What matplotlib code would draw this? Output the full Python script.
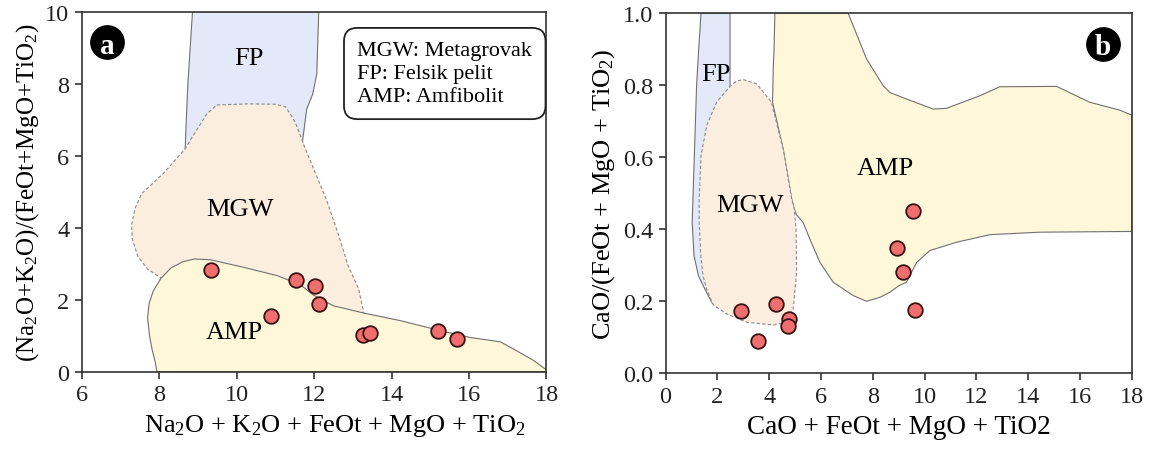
import matplotlib
matplotlib.use("Agg")
import matplotlib.pyplot as plt
from matplotlib.patches import Polygon
from matplotlib.ticker import FormatStrFormatter

plt.rcParams['font.family'] = ['Liberation Serif', 'DejaVu Serif']
plt.rcParams['mathtext.fontset'] = 'custom'
plt.rcParams['mathtext.rm'] = 'Liberation Serif'
plt.rcParams['mathtext.it'] = 'Liberation Serif:italic'
plt.rcParams['mathtext.bf'] = 'Liberation Serif:bold'

# ---------------- data: panel a ----------------
a_x = [9.33, 10.88, 11.54, 12.03, 12.12, 13.25, 13.45, 15.20, 15.70]
a_y = [2.83, 1.55, 2.56, 2.39, 1.88, 1.02, 1.07, 1.14, 0.90]

a_fp = [(8.86, 10.0), (8.80, 9.0), (8.74, 8.0), (8.70, 7.0), (8.67, 6.19), (8.70, 5.9),
        (11.75, 5.9), (11.70, 6.4), (11.81, 7.3), (11.96, 7.7), (12.07, 8.27),
        (12.09, 9.0), (12.12, 10.0)]
a_mgw = [(9.49, 7.41), (10.3, 7.44), (11.0, 7.43), (11.26, 7.36), (11.45, 7.05),
         (11.55, 6.83), (11.74, 6.28), (12.0, 5.6), (12.31, 4.8), (12.6, 3.9),
         (12.88, 2.94), (13.15, 2.3), (13.28, 1.65), (13.3, 1.5), (8.3, 1.5),
         (8.05, 2.6), (7.7, 2.85), (7.45, 3.2), (7.30, 3.7), (7.29, 4.1),
         (7.38, 4.55), (7.55, 4.95), (7.80, 5.2), (8.1, 5.5), (8.67, 6.19),
         (8.9, 6.6), (9.23, 7.16)]
a_amp = [(7.94, 0.0), (7.90, 0.25), (7.82, 0.6), (7.75, 1.0), (7.70, 1.5),
         (7.74, 1.9), (7.85, 2.25), (8.05, 2.6), (8.3, 2.88), (8.6, 3.05),
         (8.9, 3.13), (9.32, 3.11), (10.18, 2.9), (11.04, 2.67), (11.64, 2.42),
         (11.98, 2.13), (12.5, 1.83), (13.28, 1.63), (14.22, 1.42), (15.26, 1.14),
         (16.03, 0.95), (16.81, 0.83), (17.15, 0.63), (17.67, 0.31), (18.0, 0.05),
         (18.0, 0.0)]

# ---------------- data: panel b ----------------
b_x = [2.90, 4.25, 4.78, 4.71, 3.58, 9.56, 8.92, 9.17, 9.63]
b_y = [0.174, 0.193, 0.151, 0.130, 0.089, 0.451, 0.347, 0.280, 0.177]

b_fp = [(1.37, 1.0), (1.28, 0.9), (1.20, 0.8), (1.11, 0.6), (1.03, 0.42),
        (1.10, 0.327), (1.27, 0.271), (1.52, 0.234), (1.72, 0.206), (1.82, 0.193),
        (2.0, 0.3), (2.2, 0.6), (2.49, 0.78), (2.49, 1.0)]
b_mgw = [(3.0, 0.816), (3.52, 0.804), (4.09, 0.753), (4.13, 0.74), (4.54, 0.623),
         (4.87, 0.484), (4.97, 0.456), (5.04, 0.40), (5.06, 0.28), (4.93, 0.179),
         (4.67, 0.142), (4.16, 0.134), (3.13, 0.142), (2.36, 0.165), (1.85, 0.19),
         (1.78, 0.2), (1.59, 0.234), (1.45, 0.271), (1.36, 0.327), (1.30, 0.42),
         (1.30, 0.484), (1.37, 0.604), (1.59, 0.688), (1.97, 0.753), (2.49, 0.797),
         (2.75, 0.812)]
b_amp = [(4.22, 1.0), (4.19, 0.9), (4.16, 0.854), (4.13, 0.753), (4.54, 0.623),
         (4.87, 0.484), (4.97, 0.456), (5.06, 0.44), (5.31, 0.419), (5.57, 0.373),
         (5.96, 0.308), (6.47, 0.253), (7.24, 0.216), (7.76, 0.2), (8.27, 0.211),
         (8.66, 0.225), (9.0, 0.243), (9.30, 0.253), (9.69, 0.308), (10.2, 0.341),
         (11.23, 0.364), (12.51, 0.385), (14.44, 0.392), (18.0, 0.394),
         (18.0, 0.717), (17.53, 0.731), (16.37, 0.753), (15.09, 0.797),
         (12.9, 0.796), (12.13, 0.771), (10.84, 0.736), (10.33, 0.734),
         (9.30, 0.762), (8.66, 0.78), (8.40, 0.799), (7.76, 0.873), (7.05, 1.0)]

# ---------------- styles ----------------
FP_C = '#E3E9F8'
MGW_C = '#FCEEDF'
AMP_C = '#FEF7DA'
EDGE = '#707070'
PT_FC = '#EF6F6F'
PT_EC = '#3A1212'

fig = plt.figure(figsize=(11.58, 4.56), dpi=100)
axA = fig.add_axes([0.0706, 0.1827, 0.4013, 0.7894])
axB = fig.add_axes([0.5747, 0.1792, 0.4028, 0.7894])


def style_axes(ax):
    for s in ax.spines.values():
        s.set_linewidth(1.2)
        s.set_color('#333333')
        s.set_zorder(5)
    ax.tick_params(direction='out', length=5, width=1.1, labelsize=17.5,
                   colors='#222222', pad=4, top=False, right=False)


# panel a
axA.add_patch(Polygon(a_fp, closed=True, fc=FP_C, ec=EDGE, lw=0.8, zorder=1))
axA.add_patch(Polygon(a_mgw, closed=True, fc=MGW_C, ec='#8a8a8a', lw=0.8,
                      ls=(0, (3, 2)), zorder=1.2))
axA.add_patch(Polygon(a_amp, closed=True, fc=AMP_C, ec=EDGE, lw=0.8, zorder=1.4))
axA.plot(a_x, a_y, 'o', ms=10.5, mfc=PT_FC, mec=PT_EC, mew=1.3, ls='none', zorder=4)
axA.set_xlim(6, 18)
axA.set_ylim(0, 10)
axA.set_xticks(range(6, 19, 2))
axA.set_yticks(range(0, 11, 2))
style_axes(axA)
axA.set_xlabel('Na$_2$O + K$_2$O + FeOt + MgO + TiO$_2$', fontsize=19, labelpad=5)
axA.xaxis.label.set_x(0.545)
axA.set_ylabel('(Na$_2$O+K$_2$O)/(FeOt+MgO+TiO$_2$)', fontsize=18, labelpad=3)
axA.text(10.32, 8.55, 'FP', fontsize=19, ha='center', va='baseline', zorder=3)
axA.text(10.09, 4.35, 'MGW', fontsize=19, ha='center', va='baseline', zorder=3)
axA.text(9.94, 0.94, 'AMP', fontsize=19, ha='center', va='baseline', zorder=3)
axA.text(0.593, 0.918, 'MGW: Metagrovak\nFP: Felsik pelit\nAMP: Amfibolit',
         transform=axA.transAxes, fontsize=16, ha='left', va='top', linespacing=1.27,
         zorder=6,
         bbox=dict(boxstyle='round,pad=0.6,rounding_size=0.6', fc='white',
                   ec='#222222', lw=1.3))

# panel b
axB.add_patch(Polygon(b_fp, closed=True, fc=FP_C, ec=EDGE, lw=0.8, zorder=1))
axB.add_patch(Polygon(b_amp, closed=True, fc=AMP_C, ec=EDGE, lw=0.8, zorder=1.2))
axB.add_patch(Polygon(b_mgw, closed=True, fc=MGW_C, ec='#8a8a8a', lw=0.8,
                      ls=(0, (3, 2)), zorder=1.4))
axB.plot(b_x, b_y, 'o', ms=10.5, mfc=PT_FC, mec=PT_EC, mew=1.3, ls='none', zorder=4)
axB.set_xlim(0, 18)
axB.set_ylim(0, 1.0)
axB.set_xticks(range(0, 19, 2))
axB.set_yticks([0.0, 0.2, 0.4, 0.6, 0.8, 1.0])
axB.yaxis.set_major_formatter(FormatStrFormatter('%.1f'))
style_axes(axB)
axB.set_xlabel('CaO + FeOt + MgO + TiO2', fontsize=19.5, labelpad=5)
axB.set_ylabel('CaO/(FeOt + MgO + TiO$_2$)', fontsize=19, labelpad=4)
axB.text(1.955, 0.815, 'FP', fontsize=19, ha='center', va='baseline', zorder=3)
axB.text(3.26, 0.452, 'MGW', fontsize=19, ha='center', va='baseline', zorder=3)
axB.text(8.5, 0.553, 'AMP', fontsize=19, ha='center', va='baseline', zorder=3)

# panel letters
for ax, (px, py), letter in [(axA, (0.054, 0.915), 'a'), (axB, (0.938, 0.915), 'b')]:
    ax.plot([px], [py], 'o', ms=24, color='black', transform=ax.transAxes,
            zorder=6, clip_on=False)
    ax.text(px, py, letter, transform=ax.transAxes, color='white', fontsize=21,
            fontweight='bold', ha='center', va='center_baseline', zorder=7)

fig.savefig('out.png', dpi=100)
